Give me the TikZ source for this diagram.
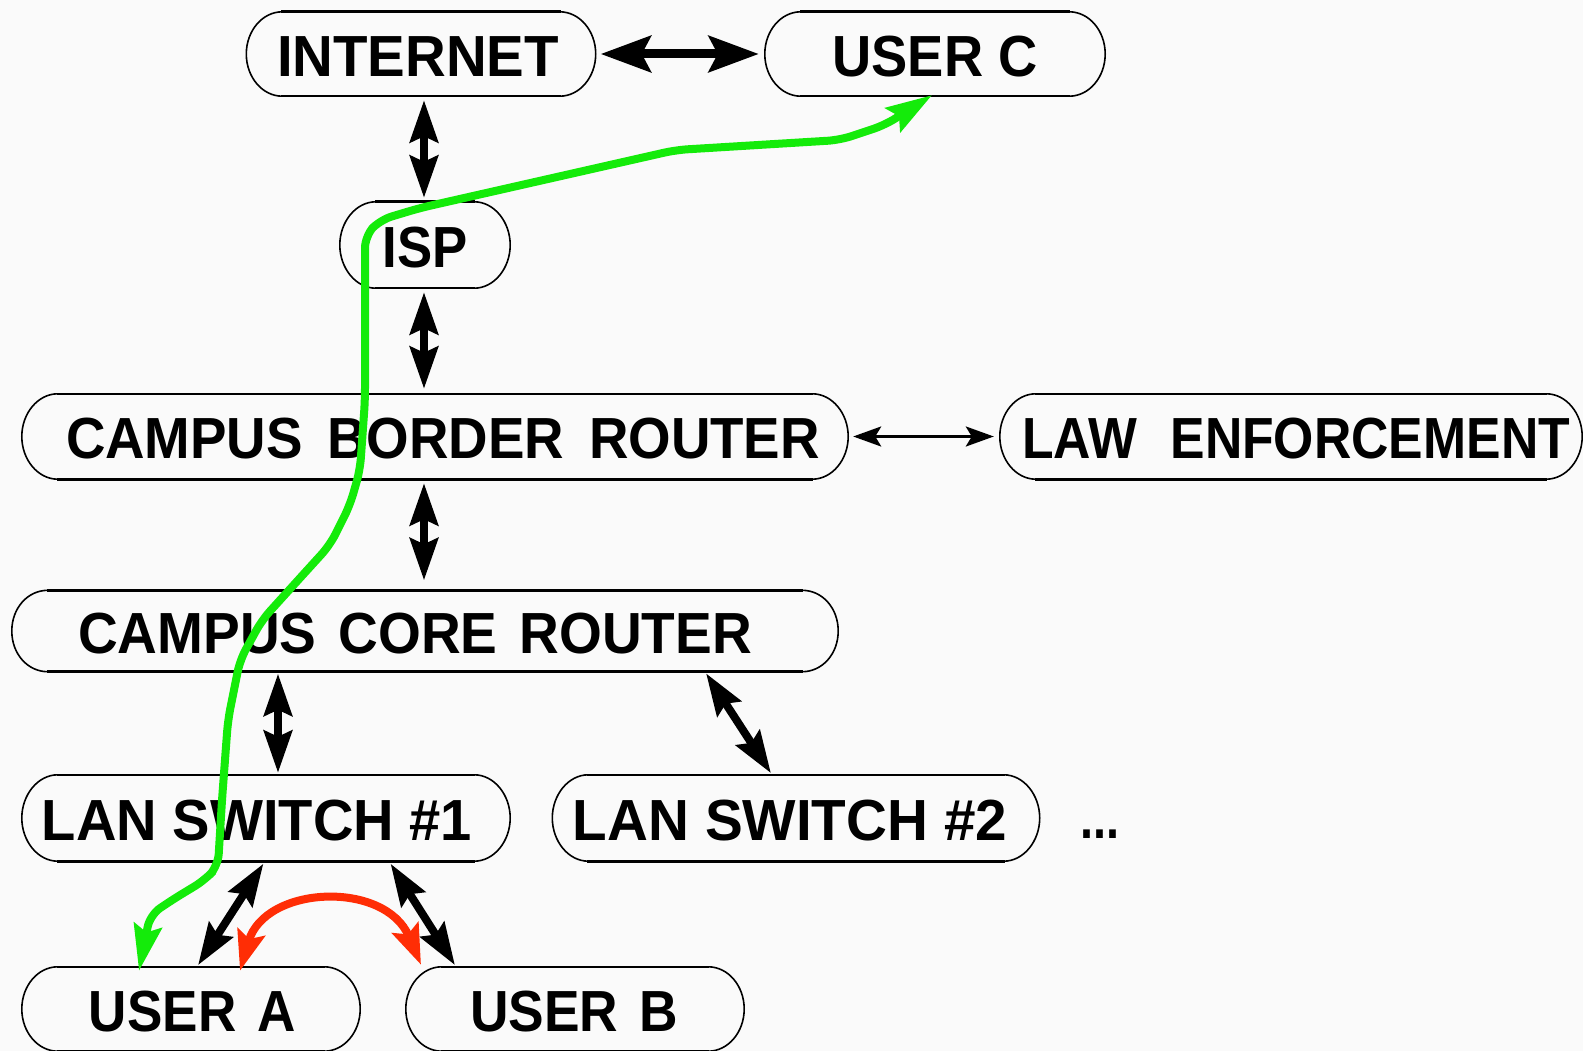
\documentclass[tikz,border=0pt]{standalone}
\usepackage{fontspec}
\setmainfont{Liberation Sans}
\usepackage{graphicx}
\usetikzlibrary{arrows.meta,calc}
\definecolor{bgc}{RGB}{250,250,250}
\definecolor{pathgreen}{RGB}{20,235,10}
\definecolor{pathred}{RGB}{255,45,5}
\newcommand\tx[3]{\makebox[0pt]{\hspace*{#1}\raisebox{-2.5pt}[\height][\depth]{\resizebox{#2}{\height}{#3}}}}
\newcommand\capsule[1]{%
 \draw[sideline] ([xshift=-36pt]#1.north east) .. controls +(19.9,0) and +(0,-23.2) .. (#1.east)
   .. controls +(0,23.2) and +(19.9,0) .. ([xshift=-36pt]#1.south east);
 \draw[sideline] ([xshift=36pt]#1.north west) .. controls +(-19.9,0) and +(0,-23.2) .. (#1.west)
   .. controls +(0,23.2) and +(-19.9,0) .. ([xshift=36pt]#1.south west);
 \draw[edgeline] ([xshift=35pt]#1.north west) -- ([xshift=-35pt]#1.north east);
 \draw[edgeline] ([xshift=35pt]#1.south west) -- ([xshift=-35pt]#1.south east);}
\tikzset{
 bx/.style={rectangle, inner sep=0pt, minimum height=84pt, font=\fontsize{58}{60}\selectfont\bfseries},
 sideline/.style={line width=1.6pt, draw=black},
 edgeline/.style={line width=2.6pt, draw=black},
 blk/.style={line width=8pt, draw=black, {Stealth[length=42pt,width=28pt,inset=6pt]}-{Stealth[length=42pt,width=28pt,inset=6pt]}},
 blkbig/.style={line width=9pt, draw=black, {Stealth[length=50pt,width=36pt,inset=9pt]}-{Stealth[length=50pt,width=36pt,inset=9pt]}},
 blkthin/.style={line width=3pt, draw=black, {Stealth[length=28pt,width=20pt,inset=6pt]}-{Stealth[length=28pt,width=20pt,inset=6pt]}},
 grn/.style={line width=8pt, draw=pathgreen, rounded corners=12pt, {Stealth[length=46pt,width=28pt,inset=7pt]}-{Stealth[length=46pt,width=28pt,inset=7pt]}},
 rd/.style={line width=8pt, draw=pathred, {Stealth[length=40pt,width=28pt,inset=7pt]}-{Stealth[length=40pt,width=28pt,inset=7pt]}},
}
\begin{document}
\begin{tikzpicture}[x=1pt,y=-1pt]
\fill[bgc] (0,0) rectangle (1583,1051);
\useasboundingbox (0,0) rectangle (1583,1051);

\node[bx, minimum width=349pt] (internet) at (421,54) {\tx{-6pt}{282pt}{INTERNET}};
\node[bx, minimum width=340pt] (userc) at (935,54) {\tx{0pt}{205pt}{USER C}};
\node[bx, minimum width=170pt, minimum height=86pt] (isp) at (425,245) {\tx{0pt}{85pt}{ISP}};
\node[bx, minimum width=826pt, minimum height=85pt] (border) at (435,436.5) {\tx{16pt}{754pt}{CAMPUS\hspace{0.45em}BORDER\hspace{0.45em}ROUTER}};
\node[bx, minimum width=582pt, minimum height=85pt] (law) at (1291,436.5) {\tx{10pt}{548pt}{LAW\hspace{0.65em}ENFORCEMENT}};
\node[bx, minimum width=826pt, minimum height=81pt] (core) at (425,631) {\tx{-20pt}{674pt}{CAMPUS\hspace{0.4em}CORE\hspace{0.4em}ROUTER}};
\node[bx, minimum width=488pt, minimum height=86pt] (lan1) at (266,818) {\tx{-18pt}{430pt}{LAN SWITCH \#1}};
\node[bx, minimum width=487pt, minimum height=86pt] (lan2) at (796,818) {\tx{-12pt}{434pt}{LAN SWITCH \#2}};
\node[bx, minimum width=338pt] (usera) at (191,1009) {\tx{3pt}{207pt}{USER\hspace{0.4em}A}};
\node[bx, minimum width=338pt] (userb) at (575,1009) {\tx{-2pt}{208pt}{USER\hspace{0.4em}B}};
\node[font=\fontsize{58}{60}\selectfont\bfseries, inner sep=0pt] (dots) at (1100,834) {\resizebox{39pt}{\height}{...}};

\foreach \n in {internet,userc,isp,border,law,core,lan1,lan2,usera,userb} {\capsule{\n}}

% black connectors
\draw[blkbig, shorten <=5pt, shorten >=6pt] (internet.east) -- (userc.west);
\draw[blk, shorten <=4pt, shorten >=4pt] ([xshift=3pt]internet.south) -- ([xshift=-1pt]isp.north);
\draw[blk, shorten <=4pt, shorten >=5pt] ([xshift=-1pt]isp.south) -- ([xshift=-1pt]isp.south |- border.north);
\draw[blkthin, shorten <=5pt, shorten >=6pt] (border.east) -- (law.west);
\draw[blk, shorten <=4pt, shorten >=10pt] ([xshift=-11pt]border.south) -- ([xshift=-11pt]border.south |- core.north);
\draw[blk, shorten <=2pt, shorten >=2pt] ([xshift=12pt]lan1.north |- core.south) -- ([xshift=12pt]lan1.north);
\draw[blk, shorten <=2pt, shorten >=2pt] ([xshift=280pt]core.south) -- ([xshift=-24pt]lan2.north);
\draw[blk, shorten <=3pt, shorten >=2pt] ([xshift=-1pt]lan1.south) -- ([xshift=6pt]usera.north);
\draw[blk, shorten <=3pt, shorten >=2pt] ([xshift=123pt]lan1.south) -- ([xshift=-119pt]userb.north);

% red path
\draw[rd] ([xshift=49pt,yshift=-4pt]usera.north) .. controls (265,885) and (385,880) .. ([xshift=-154pt,yshift=2pt]userb.north);

% green path
\draw[grn] ([xshift=-52pt,yshift=-4pt]usera.north) -- (150,915) -- (172,900) -- (205,880) -- (218,866) -- (222,800) -- (228,720) -- (240,660) -- (262,620) -- (300,578) -- (330,545) -- (350,505) -- (360,470) -- (365,400) -- (365,236) -- (380,220) -- (420,208) -- (676,150) -- (840,140) -- (885,125) -- ([xshift=-3pt,yshift=1pt]userc.south);
\end{tikzpicture}
\end{document}
